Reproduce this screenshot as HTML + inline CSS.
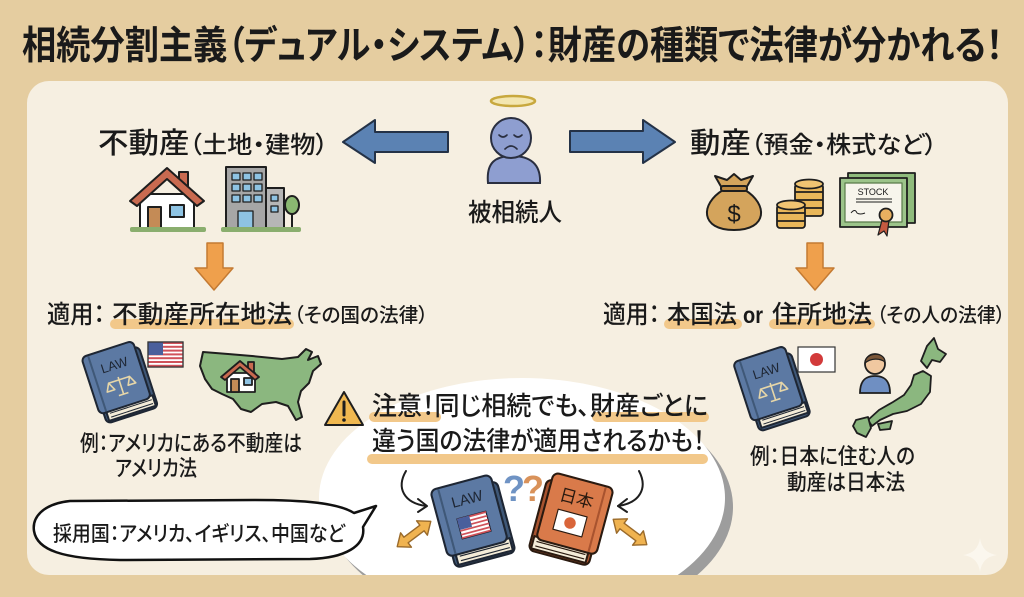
<!DOCTYPE html>
<html><head><meta charset="utf-8">
<style>
html,body{margin:0;padding:0;width:1024px;height:597px;overflow:hidden;background:#e5cda0;}
svg{display:block;position:absolute;left:0;top:0}
text{font-family:"Liberation Sans","Noto Sans CJK JP",sans-serif;font-feature-settings:"palt";fill:#1a1a1a;}
</style></head><body>
<svg width="1024" height="597" viewBox="0 0 1024 597" xmlns="http://www.w3.org/2000/svg">
<rect x="0" y="0" width="1024" height="597" fill="#e5cda0"/>
<!-- title -->
<text x="22" y="59" font-size="39" font-weight="bold" textLength="981" lengthAdjust="spacingAndGlyphs">相続分割主義（デュアル・システム）：財産の種類で法律が分かれる！</text>
<!-- panel -->
<rect x="27" y="81" width="981" height="494" rx="22" fill="#f6efe1"/>

<!-- big bubble -->
<path d="M362.7,575 A203,120 0 1,1 697.3,575 Z" fill="#9d9d9d"/>
<path d="M366.3,575 A203,120 0 1,1 677.7,575 Z" fill="#ffffff"/>

<!-- left title -->
<text x="98" y="153" font-size="29" font-weight="500" textLength="230" lengthAdjust="spacingAndGlyphs">不動産<tspan font-size="24">（土地・建物）</tspan></text>
<!-- right title -->
<text x="690" y="153" font-size="29" font-weight="500" textLength="247" lengthAdjust="spacingAndGlyphs">動産<tspan font-size="24">（預金・株式など）</tspan></text>

<!-- blue arrows -->
<polygon points="343,142 375,120 375,132 448,132 448,152 375,152 375,163" fill="#5b82b3" stroke="#243247" stroke-width="2" stroke-linejoin="round"/>
<polygon points="675,142 643,120 643,131 570,131 570,152 643,152 643,163" fill="#5b82b3" stroke="#243247" stroke-width="2" stroke-linejoin="round"/>

<!-- deceased figure -->
<ellipse cx="513" cy="101" rx="22" ry="5" fill="#f3e6b0" stroke="#c8a83e" stroke-width="2.5"/>
<path d="M488,183 C486,162 496,156 512,156 C530,156 541,164 540,183 Z" fill="#8e9ed0" stroke="#2a2f40" stroke-width="2"/>
<circle cx="511" cy="138" r="20" fill="#8e9ed0" stroke="#2a2f40" stroke-width="2"/>
<g fill="none" stroke="#2a2f40" stroke-width="1.6" stroke-linecap="round">
<path d="M499,135 Q503,139 507,135"/><path d="M514,135 Q518,139 522,135"/><path d="M505,149 Q511,143 517,149"/>
</g>
<text x="468" y="221" font-size="25" font-weight="500" textLength="94" lengthAdjust="spacingAndGlyphs">被相続人</text>

<!-- house -->
<g stroke="#1e1e1e" stroke-width="2" stroke-linejoin="round">
<rect x="179" y="172" width="9" height="16" fill="#c96a50"/>
<rect x="140" y="194" width="54" height="34" fill="#ffffff"/>
<polygon points="130,201 167,168 204,201 197,206 167,179 137,206" fill="#c96a50"/>
<rect x="148" y="207" width="13" height="21" fill="#c48b56"/>
<rect x="170" y="205" width="14" height="12" fill="#8ec3e3"/>
</g>
<rect x="130" y="227" width="76" height="5" rx="2" fill="#8aae6e"/>
<!-- building -->
<g stroke="#1e1e1e" stroke-width="2" stroke-linejoin="round">
<rect x="265" y="188" width="19" height="40" fill="#b6b6b6"/>
<rect x="226" y="167" width="40" height="61" fill="#a6a6a6"/>
<g stroke-width="1.3" fill="#8ec3e3">
<rect x="232" y="173" width="8" height="7"/><rect x="243" y="173" width="8" height="7"/><rect x="254" y="173" width="8" height="7"/>
<rect x="232" y="184" width="8" height="7"/><rect x="243" y="184" width="8" height="7"/><rect x="254" y="184" width="8" height="7"/>
<rect x="232" y="195" width="8" height="7"/><rect x="243" y="195" width="8" height="7"/><rect x="254" y="195" width="8" height="7"/>
<rect x="238" y="211" width="15" height="17"/>
<rect x="271" y="195" width="7" height="6"/><rect x="271" y="206" width="7" height="6"/>
</g>
<line x1="292" y1="210" x2="292" y2="228"/>
<ellipse cx="292" cy="205" rx="7" ry="9" fill="#8ab871"/>
</g>
<rect x="221" y="227" width="80" height="5" rx="2" fill="#8aae6e"/>

<!-- money bag -->
<g stroke="#1e1e1e" stroke-width="2" stroke-linejoin="round">
<path d="M723,190 C700,204 700,230 734,230 C768,230 768,204 745,190 Z" fill="#d4a45c"/>
<path d="M723,190 L715,176 L727,180 L734,174 L741,180 L753,176 L745,190 Z" fill="#d4a45c"/>
<rect x="721" y="186" width="26" height="5" rx="2" fill="#b9863f"/>
</g>
<text x="734" y="222" font-size="24" text-anchor="middle" font-weight="500">$</text>
<!-- coins -->
<g stroke="#1e1e1e" stroke-width="1.8">
<rect x="795" y="184" width="28" height="32" rx="3" fill="#e9b75a"/>
<ellipse cx="809" cy="184" rx="14" ry="4.5" fill="#f0c472"/>
<line x1="795" y1="192" x2="823" y2="192"/><line x1="795" y1="200" x2="823" y2="200"/><line x1="795" y1="208" x2="823" y2="208"/>
<rect x="777" y="205" width="28" height="23" rx="3" fill="#e9b75a"/>
<ellipse cx="791" cy="205" rx="14" ry="4.5" fill="#f0c472"/>
<line x1="777" y1="213" x2="805" y2="213"/><line x1="777" y1="221" x2="805" y2="221"/>
</g>
<!-- stock certificate -->
<g stroke="#1e1e1e" stroke-width="1.8" stroke-linejoin="round">
<rect x="848" y="173" width="67" height="50" fill="#8fbb7c"/>
<rect x="840" y="178" width="67" height="49" fill="#9cc48a"/>
<rect x="845" y="183" width="57" height="39" fill="#f7f5ec" stroke="#5a7a4a" stroke-width="1.2"/>
<line x1="856" y1="199" x2="892" y2="199" stroke-width="1"/>
<line x1="856" y1="202" x2="892" y2="202" stroke-width="1"/>
<path d="M851,213 q4,-5 6,0 q3,2 8,0" fill="none" stroke-width="1"/>
<path d="M882,220 L878,235 L884,231 L887,236 L889,220 Z" fill="#c45a40" stroke-width="1.2"/>
<circle cx="886" cy="215" r="6.5" fill="#e8b060"/>
</g>
<text x="873" y="195" font-size="9" text-anchor="middle" fill="#333">STOCK</text>

<!-- orange down arrows -->
<polygon points="207,243 223,243 223,268 233,268 214,290 195,268 207,268" fill="#efa04c" stroke="#c47a32" stroke-width="1.5" stroke-linejoin="round"/>
<polygon points="807,243 823,243 823,268 834,268 815,290 796,268 807,268" fill="#efa04c" stroke="#c47a32" stroke-width="1.5" stroke-linejoin="round"/>

<!-- highlights -->
<g fill="#f2c88a">
<rect x="110" y="319" width="184" height="10" rx="5"/>
<rect x="664" y="319" width="78" height="10" rx="5"/>
<rect x="769" y="319" width="106" height="10" rx="5"/>
</g>
<!-- apply labels -->
<text x="47" y="323" font-size="25" font-weight="500" textLength="58" lengthAdjust="spacingAndGlyphs">適用：</text>
<text x="112" y="323" font-size="25" font-weight="500" textLength="180" lengthAdjust="spacingAndGlyphs">不動産所在地法</text>
<text x="294" y="322" font-size="20" font-weight="500" textLength="134" lengthAdjust="spacingAndGlyphs">（その国の法律）</text>

<text x="603" y="323" font-size="25" font-weight="500" textLength="57" lengthAdjust="spacingAndGlyphs">適用：</text>
<text x="667" y="323" font-size="25" font-weight="500" textLength="70" lengthAdjust="spacingAndGlyphs">本国法</text>
<text x="743" y="323" font-size="23" font-weight="bold" textLength="20" lengthAdjust="spacingAndGlyphs">or</text>
<text x="772" y="323" font-size="25" font-weight="500" textLength="100" lengthAdjust="spacingAndGlyphs">住所地法</text>
<text x="877" y="322" font-size="20" font-weight="500" textLength="128" lengthAdjust="spacingAndGlyphs">（その人の法律）</text>

<!-- left LAW book -->
<g transform="translate(119,383) rotate(-18)" stroke="#1e2633" stroke-width="2" stroke-linejoin="round">
<rect x="-24" y="-29" width="54" height="64" rx="5" fill="#3f5878"/>
<rect x="-21" y="22" width="49" height="11" fill="#f4ecd8"/>
<line x1="-18" y1="26" x2="26" y2="26" stroke-width="1"/>
<line x1="-18" y1="30" x2="26" y2="30" stroke-width="1"/>
<rect x="-28" y="-36" width="54" height="60" rx="5" fill="#5c79a3"/>
<line x1="-21" y1="-35" x2="-21" y2="23" stroke="#3f5878"/>
<g stroke="#e6d6a8" stroke-width="1.6" fill="none">
<line x1="1" y1="-6" x2="1" y2="12"/><line x1="-10" y1="-3" x2="12" y2="-3"/>
<path d="M-14,5 L-10,-3 L-6,5 Z"/><path d="M8,5 L12,-3 L16,5 Z"/><line x1="-4" y1="12" x2="6" y2="12"/>
</g>
<text x="1" y="-14" font-size="13" text-anchor="middle" stroke="none" style="fill:#1e2633">LAW</text>
</g>
<!-- US flag -->
<g>
<rect x="148" y="342" width="35" height="25" fill="#ffffff" stroke="#333" stroke-width="1.2"/>
<g fill="#d0525a">
<rect x="148" y="342" width="35" height="2"/><rect x="148" y="345.8" width="35" height="2"/><rect x="148" y="349.6" width="35" height="2"/>
<rect x="148" y="353.4" width="35" height="2"/><rect x="148" y="357.2" width="35" height="2"/><rect x="148" y="361" width="35" height="2"/><rect x="148" y="364.8" width="35" height="2"/>
</g>
<rect x="148" y="342" width="15" height="13" fill="#4a5f9c"/>
<rect x="148" y="342" width="35" height="25" fill="none" stroke="#333" stroke-width="1.2"/>
</g>
<!-- US map -->
<path d="M203,352 L228,354 L252,356 L282,359 L298,357 L306,349 L312,352 L308,360 L318,356 L321,364 L313,371 L309,383 L301,391 L298,402 L302,417 L296,420 L288,406 L276,402 L262,404 L251,412 L241,409 L233,399 L222,394 L212,389 L205,379 L200,366 Z" fill="#8bb77f" stroke="#1e1e1e" stroke-width="2" stroke-linejoin="round"/>
<g stroke="#1e1e1e" stroke-width="1.8" stroke-linejoin="round">
<rect x="248" y="362" width="6" height="10" fill="#c96a50"/>
<rect x="227" y="373" width="28" height="19" fill="#ffffff"/>
<polygon points="221,377 240,361 259,377 255,380 240,367 225,380" fill="#c96a50"/>
<rect x="231" y="379" width="8" height="13" fill="#c48b56"/>
<rect x="244" y="378" width="8" height="7" fill="#8ec3e3"/>
</g>

<!-- left example -->
<text x="80" y="451" font-size="22" font-weight="500" textLength="222" lengthAdjust="spacingAndGlyphs">例：アメリカにある不動産は</text>
<text x="115" y="476" font-size="22" font-weight="500" textLength="82" lengthAdjust="spacingAndGlyphs">アメリカ法</text>

<!-- right LAW book -->
<g transform="translate(771,389) rotate(-18)" stroke="#1e2633" stroke-width="2" stroke-linejoin="round">
<rect x="-24" y="-29" width="54" height="66" rx="5" fill="#3f5878"/>
<rect x="-21" y="23" width="49" height="11" fill="#f4ecd8"/>
<line x1="-18" y1="27" x2="26" y2="27" stroke-width="1"/>
<line x1="-18" y1="31" x2="26" y2="31" stroke-width="1"/>
<rect x="-28" y="-37" width="54" height="62" rx="5" fill="#5c79a3"/>
<line x1="-21" y1="-36" x2="-21" y2="24" stroke="#3f5878"/>
<g stroke="#e6d6a8" stroke-width="1.6" fill="none">
<line x1="1" y1="-6" x2="1" y2="12"/><line x1="-10" y1="-3" x2="12" y2="-3"/>
<path d="M-14,5 L-10,-3 L-6,5 Z"/><path d="M8,5 L12,-3 L16,5 Z"/><line x1="-4" y1="12" x2="6" y2="12"/>
</g>
<text x="1" y="-14" font-size="13" text-anchor="middle" stroke="none" style="fill:#1e2633">LAW</text>
</g>
<!-- Japan flag -->
<rect x="798" y="347" width="37" height="25" fill="#ffffff" stroke="#333" stroke-width="1.2"/>
<circle cx="816.5" cy="359.5" r="6.5" fill="#d23a3a"/>
<!-- person -->
<path d="M860,393 C860,380 866,376 875,376 C884,376 890,380 890,393 Z" fill="#6f8fc2" stroke="#1e1e1e" stroke-width="1.8"/>
<circle cx="875" cy="364" r="10" fill="#f0c8a0" stroke="#1e1e1e" stroke-width="1.8"/>
<path d="M865,363 C865,352 885,351 885,362 C880,358 871,358 865,363 Z" fill="#7a5638" stroke="#1e1e1e" stroke-width="1.2"/>
<!-- Japan map -->
<g fill="#8bb77f" stroke="#1e1e1e" stroke-width="1.8" stroke-linejoin="round">
<path d="M927,346 L934,338 L938,349 L946,354 L940,362 L932,360 L927,368 L921,361 Z"/>
<path d="M923,371 L931,376 L930,392 L921,404 L907,411 L893,414 L880,420 L872,426 L868,420 L879,410 L893,402 L904,395 L911,385 L914,375 Z"/>
<path d="M878,424 L892,421 L890,429 L880,430 Z"/>
<path d="M856,420 L868,417 L871,428 L866,437 L857,433 L853,426 Z"/>
</g>

<!-- right example -->
<text x="750" y="464" font-size="22" font-weight="500" textLength="165" lengthAdjust="spacingAndGlyphs">例：日本に住む人の</text>
<text x="787" y="490" font-size="22" font-weight="500" textLength="118" lengthAdjust="spacingAndGlyphs">動産は日本法</text>

<!-- warning triangle -->
<polygon points="344,392 363,425 325,425" fill="#f0b850" stroke="#1e1e1e" stroke-width="2" stroke-linejoin="round"/>
<line x1="344" y1="402" x2="344" y2="415" stroke="#1e1e1e" stroke-width="3" stroke-linecap="round"/>
<circle cx="344" cy="420" r="1.8" fill="#1e1e1e"/>

<!-- bubble highlights -->
<g fill="#f2c88a">
<rect x="369" y="412" width="72" height="10" rx="5"/>
<rect x="592" y="412" width="117" height="10" rx="5"/>
<rect x="367" y="454" width="341" height="10" rx="5"/>
</g>
<text x="372" y="415" font-size="26" font-weight="500" textLength="336" lengthAdjust="spacingAndGlyphs">注意！同じ相続でも、財産ごとに</text>
<text x="372" y="450" font-size="26" font-weight="500" textLength="333" lengthAdjust="spacingAndGlyphs">違う国の法律が適用されるかも！</text>

<!-- curved arrows -->
<g fill="none" stroke="#1e1e1e" stroke-width="2" stroke-linecap="round" stroke-linejoin="round">
<path d="M406,471 C396,488 404,503 426,506"/>
<path d="M418,499 L427,506 L418,512"/>
<path d="M639,471 C648,488 640,503 618,506"/>
<path d="M627,499 L618,506 L627,512"/>
</g>
<!-- question marks -->
<text x="503" y="501" font-size="36" font-weight="bold" style="fill:#6f93c4">?</text>
<text x="522" y="501" font-size="36" font-weight="bold" style="fill:#d9925a">?</text>

<!-- bubble US book -->
<g transform="translate(472,522) rotate(-15) scale(1.15)" stroke="#1e2633" stroke-width="1.8" stroke-linejoin="round">
<rect x="-24" y="-29" width="54" height="64" rx="5" fill="#3f5878"/>
<rect x="-21" y="22" width="49" height="11" fill="#f4ecd8"/>
<line x1="-18" y1="26" x2="26" y2="26" stroke-width="1"/>
<line x1="-18" y1="30" x2="26" y2="30" stroke-width="1"/>
<rect x="-28" y="-36" width="54" height="60" rx="5" fill="#5c79a3"/>
<line x1="-21" y1="-35" x2="-21" y2="23" stroke="#3f5878"/>
<text x="1" y="-16" font-size="13" text-anchor="middle" stroke="none" style="fill:#1e2633">LAW</text>
<rect x="-12" y="-6" width="26" height="18" fill="#ffffff" stroke-width="1"/>
<g stroke="none" fill="#d0525a">
<rect x="-12" y="-6" width="26" height="1.5"/><rect x="-12" y="-2.6" width="26" height="1.5"/><rect x="-12" y="0.8" width="26" height="1.5"/>
<rect x="-12" y="4.2" width="26" height="1.5"/><rect x="-12" y="7.6" width="26" height="1.5"/><rect x="-12" y="10.5" width="26" height="1.5"/>
</g>
<rect x="-12" y="-6" width="11" height="10" fill="#4a5f9c" stroke="none"/>
</g>
<!-- bubble Japan book -->
<g transform="translate(572,520) rotate(15) scale(1.15)" stroke="#2a1a10" stroke-width="1.8" stroke-linejoin="round">
<rect x="-30" y="-29" width="54" height="64" rx="5" fill="#a8532f"/>
<rect x="-28" y="22" width="49" height="11" fill="#f4ecd8"/>
<line x1="-25" y1="26" x2="19" y2="26" stroke-width="1"/>
<line x1="-25" y1="30" x2="19" y2="30" stroke-width="1"/>
<rect x="-26" y="-36" width="54" height="60" rx="5" fill="#d97a4a"/>
<line x1="21" y1="-35" x2="21" y2="23" stroke="#a8532f"/>
<text x="-1" y="-14" font-size="15" text-anchor="middle" stroke="none" style="fill:#2a1a10">日本</text>
<rect x="-14" y="-6" width="26" height="18" fill="#ffffff" stroke-width="1"/>
<circle cx="-1" cy="3" r="5" fill="#d9653a" stroke="none"/>
</g>

<!-- double arrows -->
<g fill="#f0b350" stroke="#9a6a2a" stroke-width="1.4" stroke-linejoin="round">
<polygon transform="translate(414,534) rotate(-37)" points="-21,0 -10,-9 -10,-3.5 10,-3.5 10,-9 21,0 10,9 10,3.5 -10,3.5 -10,9"/>
<polygon transform="translate(630,532) rotate(37)" points="-21,0 -10,-9 -10,-3.5 10,-3.5 10,-9 21,0 10,9 10,3.5 -10,3.5 -10,9"/>
</g>

<!-- speech bubble -->
<path d="M70,501 C42,504 32,518 34,531 C37,550 62,559 120,560 L310,559 C345,558 366,546 363,527 L376,506 L354,513 C338,503 305,500 255,500 Z" fill="#ffffff" stroke="#111111" stroke-width="2.5" stroke-linejoin="round"/>
<text x="53" y="541" font-size="21" font-weight="500" textLength="292" lengthAdjust="spacingAndGlyphs">採用国：アメリカ、イギリス、中国など</text>

<!-- sparkle -->
<path d="M980,538 Q982,553 997,555 Q982,557 980,572 Q978,557 963,555 Q978,553 980,538 Z" fill="#fbf7ee"/>
</svg>
</body></html>
